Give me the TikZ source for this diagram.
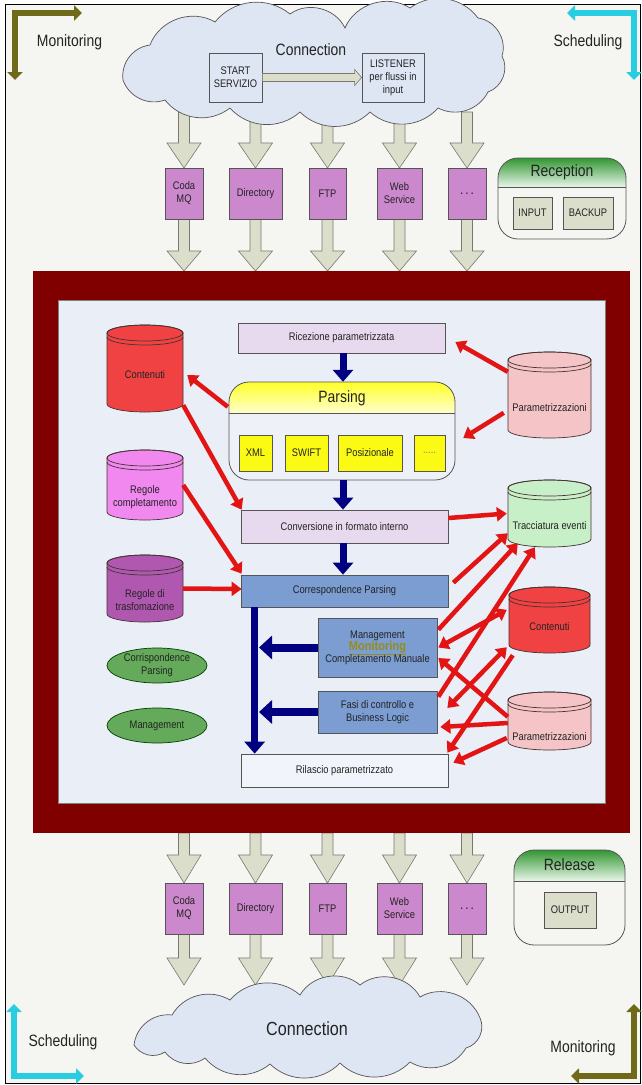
\documentclass[tikz,border=0pt]{standalone}
\usepackage{fontspec}
\setmainfont{Liberation Sans}[FakeStretch=0.85]
\usetikzlibrary{arrows.meta,shapes.geometric,calc}

\definecolor{bg}{RGB}{245,246,242}
\definecolor{olivearr}{RGB}{110,106,26}
\definecolor{cyanarr}{RGB}{40,205,225}
\definecolor{cloudfill}{RGB}{222,230,244}
\definecolor{blockfill}{RGB}{220,222,204}
\definecolor{blockline}{RGB}{120,120,110}
\definecolor{colbox}{RGB}{204,136,204}
\definecolor{framered}{RGB}{128,0,0}
\definecolor{innerbg}{RGB}{233,238,247}
\definecolor{lav}{RGB}{232,218,238}
\definecolor{bluebox}{RGB}{123,157,210}
\definecolor{rilfill}{RGB}{241,244,250}
\definecolor{navyarr}{RGB}{0,0,128}
\definecolor{redarr}{RGB}{226,20,20}
\definecolor{contred}{RGB}{240,66,66}
\definecolor{pinkcyl}{RGB}{244,196,198}
\definecolor{violetcyl}{RGB}{240,136,240}
\definecolor{purplecyl}{RGB}{176,88,176}
\definecolor{greencyl}{RGB}{200,240,200}
\definecolor{ellgreen}{RGB}{100,170,90}
\definecolor{monit}{RGB}{150,140,25}
\definecolor{xmlyellow}{RGB}{250,250,20}
\definecolor{txt}{RGB}{35,35,35}
\definecolor{grayline}{RGB}{85,85,85}
\definecolor{cylline}{RGB}{70,50,50}
\definecolor{greenhead}{RGB}{50,150,50}
\definecolor{greenlight}{RGB}{232,245,232}
\definecolor{yellowhead}{RGB}{255,255,40}
\definecolor{yellowlight}{RGB}{255,255,205}
\definecolor{panelbody}{RGB}{238,242,248}

\tikzset{
  sm/.style={font=\fontsize{11}{13}\selectfont, text=txt},
  bigf/.style={font=\fontsize{16.4}{19}\selectfont, text=txt},
  box/.style={draw=grayline, line width=0.7pt, inner sep=0pt, align=center, sm},
  colbx/.style={box, fill=colbox, minimum height=51pt},
  redar/.style={draw=redarr, line width=4.5pt, -{Triangle[length=10pt,width=14pt]}},
  redarb/.style={draw=redarr, line width=4.5pt, {Triangle[length=10pt,width=14pt]}-{Triangle[length=10pt,width=14pt]}},
  bluear/.style={draw=navyarr, line width=7pt, -{Triangle[length=12pt,width=20pt]}},
  bluearh/.style={draw=navyarr, line width=8pt, -{Triangle[length=13pt,width=23pt]}},
  cornerar/.style={line width=6pt, line join=miter, {Triangle[length=8pt,width=15pt]}-{Triangle[length=8pt,width=15pt]}},
  elln/.style={ellipse, draw=green!25!black, fill=ellgreen, line width=0.7pt, minimum width=100pt, minimum height=35pt, inner sep=0pt, align=center, sm},
  cloudp/.style={fill=cloudfill, draw=grayline, line width=0.7pt},
  bl/.style={bend left=#1}
}

\newcommand\vblock[4]{\filldraw[fill=blockfill, draw=blockline, line width=0.6pt] (#1-5.5,#2) -- (#1+5.5,#2) -- (#1+5.5,#3) -- (#1+17,#3) -- (#1,#4) -- (#1-17,#3) -- (#1-5.5,#3) -- cycle;}

\newcommand\cyl[8]{%
  \pgfmathsetmacro\cxa{(#2+#3)/2}%
  \pgfmathsetmacro\rxa{(#3-#2)/2}%
  \pgfmathsetmacro\cya{(#4+#5)/2}%
  \pgfmathsetmacro\wa{#3-#2}%
  \pgfmathsetmacro\ha{#5-#4}%
  \node[inner sep=0pt, minimum width=\wa*1pt, minimum height=\ha*1pt] (#1) at (\cxa,\cya) {};
  \filldraw[fill=#6, draw=cylline, line width=0.7pt] (#2,#4+8) -- (#2,#5-8) arc[start angle=180, end angle=0, x radius=\rxa, y radius=8] -- (#3,#4+8) arc[start angle=0, end angle=-180, x radius=\rxa, y radius=8] -- cycle;
  \draw[cylline, line width=0.7pt] (\cxa,#4+8) ellipse[x radius=\rxa, y radius=8];
  \draw[cylline, line width=0.7pt] (#2,#4+12) arc[start angle=180, end angle=0, x radius=\rxa, y radius=8];
  \node[sm, align=center] (#1-l) at (\cxa,#8) {#7};
}

\begin{document}
\begin{tikzpicture}[x=1pt,y=-1pt]
\useasboundingbox (0,0) rectangle (642,1085);
\fill[white] (0,0) rectangle (642,1085);
\filldraw[fill=bg, draw=black, line width=0.8pt] (5,4) rectangle (640,1083);

% corner arrows
\coordinate (tl1) at (15,80); \coordinate (tl2) at (15,13); \coordinate (tl3) at (82,13);
\draw[cornerar, draw=olivearr] (tl1) -- (tl2) -- (tl3);
\coordinate (tr1) at (567,13); \coordinate (tr2) at (634,13); \coordinate (tr3) at (634,80);
\draw[cornerar, draw=cyanarr] (tr1) -- (tr2) -- (tr3);
\coordinate (bl1) at (14,1004); \coordinate (bl2) at (14,1076); \coordinate (bl3) at (84,1076);
\draw[cornerar, draw=cyanarr] (bl1) -- (bl2) -- (bl3);
\coordinate (br1) at (571,1076); \coordinate (br2) at (634,1076); \coordinate (br3) at (634,1004);
\draw[cornerar, draw=olivearr] (br1) -- (br2) -- (br3);
\node[bigf] (lmon) at (69.5,42) {Monitoring};
\node[bigf] (lsch) at (588,42) {Scheduling};
\node[bigf] (lsch2) at (63,1042) {Scheduling};
\node[bigf] (lmon2) at (583,1048) {Monitoring};

% column block arrows
\foreach \x in {184,255.5,327.5,399.5,467}{
  \vblock{\x}{112}{143}{168}
  \vblock{\x}{219}{251}{271}
  \vblock{\x}{833}{855}{883}
  \vblock{\x}{934}{958}{985}
}

% top cloud
\filldraw[cloudp] (123,80) to[bl=45] (150,45) to[bl=50] (215,22) to[bl=45] (290,14) to[bl=50] (345,28)
  to[bl=50] (410,8) to[bl=45] (478,18) to[bl=50] (502,56) to[bl=50] (488,92) to[bl=45] (438,108)
  to[bl=45] (370,112) to[bl=45] (300,112) to[bl=45] (230,108) to[bl=45] (165,100) to[bl=45] (123,80) -- cycle;
\node[inner sep=0pt, minimum width=379pt, minimum height=104pt] (cloudT) at (312.5,60) {};
\node[bigf] (conT) at (311,50) {Connection};
\node[box, fill=cloudfill, minimum width=53pt, minimum height=49pt] (start) at (235.5,77.5) {START\\SERVIZIO};
\node[box, fill=cloudfill, minimum width=62pt, minimum height=49pt] (listen) at (393,77.5) {LISTENER\\per flussi in\\input};
\filldraw[fill=blockfill, draw=blockline, line width=0.6pt] ($(start.east)+(0,-4)$) -- ($(listen.west)+(-7,-4)$) -- ($(listen.west)+(-7,-8)$) -- (listen.west) -- ($(listen.west)+(-7,8)$) -- ($(listen.west)+(-7,4)$) -- ($(start.east)+(0,4)$) -- cycle;

% bottom cloud
\filldraw[cloudp] (134,1045) to[bl=45] (172,1015) to[bl=45] (230,1000) to[bl=45] (300,995) to[bl=50] (360,985)
  to[bl=50] (420,997) to[bl=50] (480,1018) to[bl=50] (466,1048) to[bl=45] (410,1062) to[bl=45] (340,1063)
  to[bl=45] (270,1064) to[bl=45] (205,1058) to[bl=45] (165,1052) to[bl=45] (134,1045) -- cycle;
\node[inner sep=0pt, minimum width=346pt, minimum height=80pt] (cloudB) at (307,1024) {};
\node[font=\fontsize{19}{22}\selectfont, text=txt] (conB) at (307,1029) {Connection};

% column boxes
\foreach \n/\x/\w/\t in {a/184/38/{Coda\\MQ}, b/255.5/53/{Directory}, c/327.5/37/{FTP}, d/399.5/45/{Web\\Service}, e/467/38/{{\fontsize{14}{14}\selectfont .\hspace{2pt}.\hspace{2pt}.}}}{
  \node[colbx, minimum width=\w*1pt] (top\n) at (\x,193.5) {\t};
  \node[colbx, minimum width=\w*1pt] (bot\n) at (\x,908.5) {\t};
}

% Reception panel
\begin{scope}
  \clip[rounded corners=20pt] (498,158) rectangle (626,239);
  \fill[bg] (498,158) rectangle (626,239);
  \shade[top color=greenhead, bottom color=greenlight] (498,158) rectangle (626,187);
\end{scope}
\draw[grayline, line width=0.7pt] (498,187) -- (626,187);
\draw[grayline, line width=0.8pt, rounded corners=20pt] (498,158) rectangle (626,239);
\node[bigf] (rect) at (562,172) {Reception};
\node[box, fill=blockfill, minimum width=39pt, minimum height=32pt] (inp) at (532.5,213) {INPUT};
\node[box, fill=blockfill, minimum width=50pt, minimum height=32pt] (bak) at (588,213) {BACKUP};

% Release panel
\begin{scope}
  \clip[rounded corners=20pt] (514,850) rectangle (625,945);
  \fill[bg] (514,850) rectangle (625,945);
  \shade[top color=greenhead, bottom color=greenlight] (514,850) rectangle (625,881);
\end{scope}
\draw[grayline, line width=0.7pt] (514,881) -- (625,881);
\draw[grayline, line width=0.8pt, rounded corners=20pt] (514,850) rectangle (625,945);
\node[bigf] (relt) at (569.5,865) {Release};
\node[box, fill=blockfill, minimum width=52pt, minimum height=36pt] (outp) at (570,910) {OUTPUT};

% red frame and inner panel
\fill[framered] (33,271) rectangle (630,833);
\filldraw[fill=innerbg, draw=gray, line width=0.6pt] (58,300) rectangle (605,803);

% Parsing panel
\begin{scope}
  \clip[rounded corners=20pt] (229,382) rectangle (455,480);
  \fill[panelbody] (229,382) rectangle (455,480);
  \shade[top color=yellowhead, bottom color=yellowlight] (229,382) rectangle (455,413);
\end{scope}
\draw[grayline, line width=0.7pt] (229,413) -- (455,413);
\draw[grayline, line width=0.8pt, rounded corners=20pt] (229,382) rectangle (455,480);
\node[inner sep=0pt, minimum width=226pt, minimum height=98pt] (parsing) at (342,431) {};
\node[bigf] (parst) at (342,398) {Parsing};
\node[box, fill=xmlyellow, minimum width=33pt, minimum height=36pt] (xml) at (255.5,453) {XML};
\node[box, fill=xmlyellow, minimum width=43pt, minimum height=36pt] (swift) at (306.5,453) {SWIFT};
\node[box, fill=xmlyellow, minimum width=64pt, minimum height=36pt] (pos) at (370,453) {Posizionale};
\node[box, fill=xmlyellow, minimum width=31pt, minimum height=36pt, text=gray] (pdots) at (429.5,453) {.....};

% process boxes
\node[box, fill=lav, minimum width=207pt, minimum height=30pt] (ric) at (341.5,338) {Ricezione parametrizzata};
\node[box, fill=lav, minimum width=207pt, minimum height=33pt] (conv) at (344.5,526.5) {Conversione in formato interno};
\node[box, fill=bluebox, minimum width=207pt, minimum height=32pt] (corr) at (344.5,591) {Correspondence Parsing};
\node[box, fill=bluebox, minimum width=119pt, minimum height=59pt] (mgmt) at (377.5,647.5) {Management\\[-1pt]{\fontsize{13}{15}\selectfont\bfseries\color{monit}\underline{Monitoring}}\\[-1pt]Completamento Manuale};
\node[box, fill=bluebox, minimum width=119pt, minimum height=42pt] (fasi) at (377.5,712) {Fasi di controllo e\\Business Logic};
\node[box, fill=rilfill, minimum width=207pt, minimum height=33pt] (ril) at (344.5,770.5) {Rilascio parametrizzato};

% cylinders
\cyl{cont1}{107}{183}{325}{412}{contred}{Contenuti}{375}
\cyl{regc}{107}{183}{450}{520}{violetcyl}{Regole\\completamento}{497}
\cyl{regt}{107}{183}{555}{622}{purplecyl}{Regole di\\trasfomazione}{600}
\cyl{param1}{508}{591}{352}{438}{pinkcyl}{Parametrizzazioni}{408}
\cyl{tracc}{508}{591}{480}{547}{greencyl}{Tracciatura eventi}{526}
\cyl{cont2}{509}{590}{587}{653}{contred}{Contenuti}{627}
\cyl{param2}{508}{591}{692}{750}{pinkcyl}{Parametrizzazioni}{737}

% ellipses
\node[elln] (ellcp) at (157,665.5) {Corrispondence\\Parsing};
\node[elln] (ellmg) at (157,725.5) {Management};

% blue arrows
\draw[bluear] ($(ric.south)+(1.5,0)$) -- ($(parsing.north)+(1,0)$);
\draw[bluear] ($(parsing.south)+(1,0)$) -- ($(conv.north)+(-1.5,0)$);
\draw[bluear] ($(conv.south)+(-1.5,0)$) -- ($(corr.north)+(-1.5,0)$);
\draw[bluear] ($(corr.south west)+(14,0)$) -- ($(ril.north west)+(14,0)$);
\coordinate (shA) at (259,647.5);
\coordinate (shB) at (259,712);
\draw[bluearh] (mgmt.west) -- (shA);
\draw[bluearh] (fasi.west) -- (shB);

% red arrows
\draw[redar] ($(param1.north west)+(0,20)$) -- ($(ric.east)+(10,4)$);
\draw[redar] ($(param1.north west)+(-4,61)$) -- ($(parsing.east)+(8,7)$);
\draw[redar] ($(parsing.north west)+(-1,25)$) -- ($(cont1.east)+(4,6.5)$);
\draw[redar] ($(cont1.south east)+(0,-7)$) -- ($(conv.north west)+(1,0)$);
\draw[redar] (regc.east) -- ($(corr.north west)+(1,-1)$);
\draw[redar] (regt.east) -- ($(corr.west)+(1,-2)$);
\draw[redar] ($(conv.east)+(0,-8.5)$) -- ($(tracc.west)+(-1,0)$);
\draw[redar] ($(corr.north east)+(5,8)$) -- ($(tracc.south west)+(0,-14)$);
\draw[redar] ($(mgmt.north east)+(1,12)$) -- ($(tracc.south west)+(10,-4)$);
\draw[redar] ($(fasi.north east)+(1,6)$) -- ($(tracc.south west)+(27,0)$);
\draw[redarb] ($(mgmt.east)+(1,0)$) -- ($(cont2.north west)+(-2,23)$);
\draw[redar] ($(param2.north west)+(0,25)$) -- ($(mgmt.east)+(1,10.5)$);
\draw[redarb] ($(cont2.south west)+(-2,-6)$) -- ($(fasi.east)+(10,-4)$);
\draw[redar] ($(cont2.south west)+(4,2)$) -- ($(ril.north east)+(-1,-1)$);
\draw[redar] ($(param2.west)+(0,2)$) -- ($(fasi.east)+(3,15)$);
\draw[redar] ($(param2.west)+(-1,17)$) -- ($(ril.north east)+(5,9)$);
\end{tikzpicture}
\end{document}
